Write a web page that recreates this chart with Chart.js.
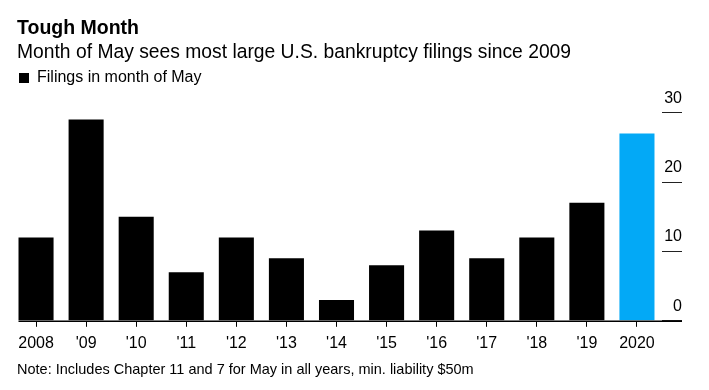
<!DOCTYPE html>
<html>
<head>
<meta charset="utf-8">
<script src="https://cdn.jsdelivr.net/npm/chart.js@4.4.1/dist/chart.umd.min.js"></script>
<style>
  html, body { margin: 0; padding: 0; background: #ffffff; }
  #wrap { width: 709px; height: 390px; position: relative; }
</style>
</head>
<body>
<div id="wrap"><canvas id="c"></canvas></div>
<script>
// ---- data ----
const categories = ["2008", "'09", "'10", "'11", "'12", "'13", "'14", "'15", "'16", "'17", "'18", "'19", "2020"];
const filings = [12, 29, 15, 7, 12, 9, 3, 8, 13, 9, 12, 17, 27];
const yTicks = [0, 10, 20, 30];
const seriesName = "Filings in month of May";
const titleText = "Tough Month";
const subtitleText = "Month of May sees most large U.S. bankruptcy filings since 2009";
const noteText = "Note: Includes Chapter 11 and 7 for May in all years, min. liability $50m";

const FONT = "'Liberation Sans', Arial, Helvetica, sans-serif";
const BLACK = "#000000";
const BLUE = "#03a9f6";

const textPlugin = {
  id: 'bbgText',
  afterDraw(chart) {
    const ctx = chart.ctx;
    ctx.save();
    ctx.fillStyle = '#000';
    ctx.textAlign = 'left';
    ctx.textBaseline = 'alphabetic';
    ctx.font = "bold 19.5px " + FONT;
    ctx.fillText(titleText, 17, 34);
    ctx.font = "19.3px " + FONT;
    ctx.fillText(subtitleText, 17, 58);
    ctx.font = "14.5px " + FONT;
    ctx.fillText(noteText, 17, 374);
    ctx.restore();
  }
};

// y tick labels: right-aligned, sitting just above each short tick line
const yLabelPlugin = {
  id: 'yLabels',
  afterDraw(chart) {
    const s = chart.scales.y;
    const ctx = chart.ctx;
    ctx.save();
    ctx.fillStyle = '#000';
    ctx.font = "16px " + FONT;
    ctx.textAlign = 'right';
    ctx.textBaseline = 'middle';
    s.ticks.forEach(t => {
      ctx.fillText(String(t.value), s.right, s.getPixelForValue(t.value) - 14.5);
    });
    ctx.restore();
  }
};

const baselinePlugin = {
  id: 'baseline',
  afterDatasetsDraw(chart) {
    const meta = chart.getDatasetMeta(0);
    const first = meta.data[0];
    const x0 = first.x - first.width / 2;
    const x1 = chart.scales.y.right;
    const y = chart.scales.y.getPixelForValue(0);
    const ctx = chart.ctx;
    ctx.save();
    ctx.strokeStyle = '#000';
    ctx.lineWidth = 1.5;
    ctx.beginPath();
    ctx.moveTo(x0, y + 0.5);
    ctx.lineTo(x1, y + 0.5);
    ctx.stroke();
    ctx.restore();
  }
};

new Chart(document.getElementById('c'), {
  type: 'bar',
  data: {
    labels: categories,
    datasets: [{
      label: seriesName,
      data: filings,
      backgroundColor: (ctx) => (ctx.dataIndex === categories.length - 1 ? BLUE : BLACK),
      borderWidth: 0,
      categoryPercentage: 1.0,
      barPercentage: 0.7
    }]
  },
  options: {
    responsive: true,
    maintainAspectRatio: false,
    animation: false,
    devicePixelRatio: 1,
    layout: { padding: { top: 62, left: 11, right: 27, bottom: 30 } },
    plugins: {
      title: { display: false },
      tooltip: { enabled: false },
      legend: {
        display: true,
        position: 'top',
        align: 'start',
        labels: {
          boxWidth: 10,
          boxHeight: 10,
          padding: 8,
          color: '#000',
          font: { family: FONT, size: 16 }
        }
      }
    },
    scales: {
      x: {
        grid: { display: true, drawOnChartArea: false, drawTicks: true, tickLength: 6, offset: false, color: '#000', lineWidth: 1 },
        border: { display: false },
        ticks: { color: '#000', font: { family: FONT, size: 16 }, padding: 7, autoSkip: false, maxRotation: 0 }
      },
      y: {
        position: 'right',
        min: 0,
        max: 32.4,
        afterBuildTicks: (s) => { s.ticks = yTicks.map(v => ({ value: v })); },
        grid: { display: true, drawOnChartArea: false, drawTicks: true, tickLength: 20, color: '#222', lineWidth: 1 },
        border: { display: false },
        ticks: { display: false }
      }
    }
  },
  plugins: [textPlugin, yLabelPlugin, baselinePlugin]
});
</script>
</body>
</html>
